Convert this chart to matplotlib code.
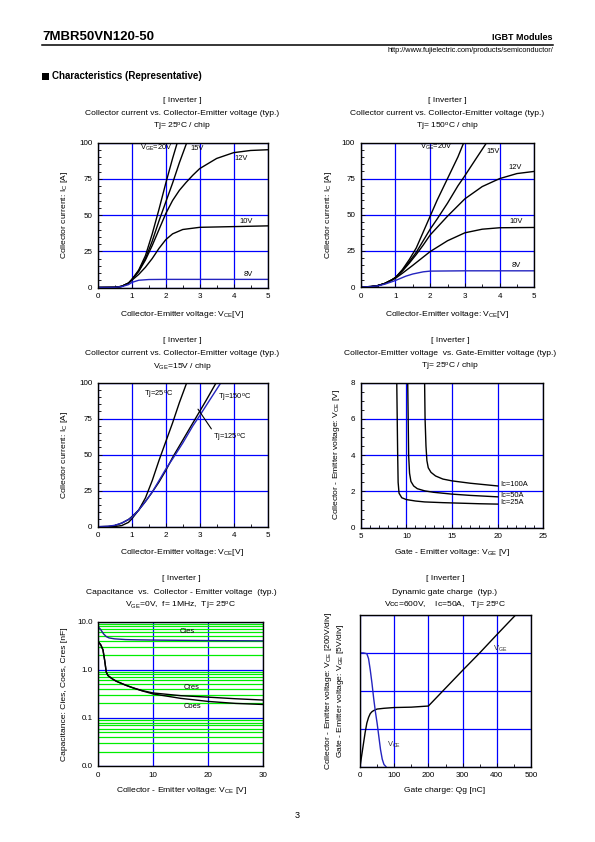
import matplotlib
matplotlib.use('Agg')
import matplotlib.pyplot as plt
from matplotlib.patches import Rectangle
from matplotlib.ticker import MultipleLocator, FixedLocator, FixedFormatter, NullFormatter

plt.rcParams['font.family'] = ['Liberation Sans', 'DejaVu Sans']
plt.rcParams['mathtext.default'] = 'regular'

# ---- output characteristics, Tj=25C (VCE [V], IC [A])
v25_20 = [0, 0.5, 0.7, 0.9, 1.0, 1.2, 1.4, 1.6, 1.8, 2.0, 2.2, 2.34]
i25_20 = [0, 0.1, 0.8, 3.0, 5.5, 12, 22, 37, 54, 72, 89, 100]
v25_15 = [0, 0.5, 0.7, 0.9, 1.0, 1.2, 1.4, 1.6, 1.8, 2.0, 2.2, 2.4, 2.62]
i25_15 = [0, 0.1, 0.8, 3.0, 5.5, 11.5, 20, 32, 46, 59, 72, 86, 100]
v25_12 = [0, 0.5, 0.7, 0.9, 1.0, 1.2, 1.4, 1.6, 1.8, 2.0, 2.2, 2.4, 2.6, 2.8, 3.0, 3.5, 4.0, 4.5, 5.0]
i25_12 = [0, 0.1, 0.8, 3.0, 5.5, 11, 19, 29, 40, 51, 60, 67, 72.5, 77.5, 82, 89, 93, 94.5, 95]
v25_10 = [0, 0.5, 0.7, 0.9, 1.0, 1.2, 1.4, 1.6, 1.8, 2.0, 2.2, 2.5, 3.0, 4.0, 5.0]
i25_10 = [0, 0.1, 0.8, 3.0, 5.0, 9, 14, 20, 27, 33, 37, 40, 41.5, 42, 42.5]
v25_8 = [0, 0.5, 0.7, 0.9, 1.0, 1.2, 1.5, 2.0, 5.0]
i25_8 = [0, 0.1, 0.6, 2.0, 3.5, 5.0, 5.5, 5.6, 5.6]

# ---- output characteristics, Tj=150C
v150_20 = [0, 0.3, 0.5, 0.7, 0.9, 1.0, 1.2, 1.4, 1.6, 1.8, 2.0, 2.2, 2.4, 2.6, 2.8, 2.97]
i150_20 = [0, 0.3, 1.0, 2.5, 5.0, 6.5, 12, 19, 27, 38, 49, 60, 70, 80, 90, 100]
v150_15 = [0, 0.3, 0.5, 0.7, 0.9, 1.0, 1.2, 1.4, 1.6, 1.8, 2.0, 2.2, 2.5, 2.8, 3.0, 3.3, 3.63]
i150_15 = [0, 0.3, 1.0, 2.5, 5.0, 6.5, 11.5, 17.5, 24, 32, 40, 47, 58, 70, 77, 88, 100]
v150_12 = [0, 0.3, 0.5, 0.7, 0.9, 1.0, 1.2, 1.4, 1.6, 1.8, 2.0, 2.5, 3.0, 3.5, 4.0, 4.5, 5.0]
i150_12 = [0, 0.3, 1.0, 2.5, 5.0, 6.5, 11, 16.5, 22.5, 29, 36, 49, 61, 69.5, 75, 78.5, 80]
v150_10 = [0, 0.3, 0.5, 0.7, 0.9, 1.0, 1.2, 1.5, 2.0, 2.5, 3.0, 3.5, 4.0, 5.0]
i150_10 = [0, 0.3, 1.0, 2.5, 4.8, 6.0, 9.5, 15, 24.5, 32, 37.5, 40, 41, 41.2]
v150_8 = [0, 0.3, 0.5, 0.7, 1.0, 1.3, 1.5, 1.8, 2.0, 3.0, 5.0]
i150_8 = [0, 0.3, 0.8, 2.0, 4.5, 7.5, 9.0, 10.5, 11, 11.2, 11.2]

# ---- VGE=15V, three temperatures
v_t25 = v25_15
i_t25 = i25_15
v_t125 = [0, 0.3, 0.5, 0.7, 0.9, 1.0, 1.2, 1.4, 1.6, 1.8, 2.0, 2.2, 2.5, 2.8, 3.0, 3.2, 3.49]
i_t125 = [0, 0.2, 0.8, 2.5, 5.0, 7.0, 11.5, 17.5, 24, 31, 39, 48, 60, 72, 80, 88, 100]
v_t150 = v150_15
i_t150 = i150_15

# ---- VCE vs VGE, Tj=25C
vge_25a = [8.95, 9.0, 9.05, 9.1, 9.2, 9.5, 10, 11, 12, 14, 16, 18, 20]
vce_25a = [8, 6, 4, 2.5, 1.9, 1.65, 1.55, 1.47, 1.42, 1.38, 1.35, 1.32, 1.3]
vge_50a = [10.15, 10.2, 10.25, 10.35, 10.5, 10.8, 11.2, 12, 13, 15, 17, 20]
vce_50a = [8, 6, 4, 3, 2.55, 2.3, 2.15, 2.03, 1.95, 1.85, 1.78, 1.7]
vge_100a = [12.0, 12.05, 12.15, 12.25, 12.4, 12.7, 13.2, 14, 15, 17, 20]
vce_100a = [8, 6, 4.5, 3.7, 3.3, 3.05, 2.85, 2.68, 2.58, 2.45, 2.3]

# ---- capacitance [nF] vs VCE [V]
cap_v = [0, 0.5, 1.0, 1.5, 2, 3, 5, 7, 10, 15, 20, 25, 30]
cies = [8.0, 6.8, 5.6, 4.9, 4.6, 4.4, 4.25, 4.2, 4.15, 4.1, 4.05, 4.02, 4.0]
cv2 = [0, 0.5, 0.9, 1.2, 1.5, 1.8, 2.5, 3.3, 5, 6.4, 8, 10, 15, 20, 25, 30]
cres = [3.9, 3.3, 2.6, 1.6, 0.9, 0.76, 0.66, 0.58, 0.48, 0.42, 0.37, 0.33, 0.29, 0.27, 0.25, 0.235]
coes = [3.9, 3.3, 2.6, 1.6, 0.9, 0.76, 0.66, 0.58, 0.48, 0.42, 0.365, 0.315, 0.255, 0.22, 0.2, 0.19]

# ---- gate charge [nC] vs divisions
qg_ge = [0, 5, 10, 15, 20, 25, 30, 35, 40, 50, 70, 100, 150, 200, 250, 300, 350, 400, 455]
vge_div = [0, 0.3, 0.6, 0.9, 1.15, 1.3, 1.4, 1.45, 1.48, 1.52, 1.54, 1.56, 1.57, 1.6, 2.07, 2.54, 3.0, 3.48, 4.0]
qg_ce = [0, 10, 20, 25, 30, 35, 40, 45, 50, 55, 60, 65, 70, 76]
vce_div = [3, 3, 2.98, 2.85, 2.55, 2.2, 1.8, 1.45, 1.15, 0.8, 0.45, 0.2, 0.06, 0]

W, H = 595, 842
GRID = '#0000ff'
CBLUE = '#2424c0'
FS = 6.1
fig = plt.figure(figsize=(W / 100, H / 100), dpi=100)


def box(l, t, r, b):
    return fig.add_axes([l / W, 1 - b / H, (r - l) / W, (b - t) / H])


def txt(x, y, s, **kw):
    kw.setdefault('fontsize', FS)
    fig.text(x / W, 1 - y / H, s, **kw)


def style(ax, xlim, ylim, xmaj, ymaj, xmin=None, ymin=None):
    ax.set_xlim(*xlim)
    ax.set_ylim(*ylim)
    ax.xaxis.set_major_locator(MultipleLocator(xmaj))
    ax.yaxis.set_major_locator(MultipleLocator(ymaj))
    if xmin:
        ax.xaxis.set_minor_locator(MultipleLocator(xmin))
    if ymin:
        ax.yaxis.set_minor_locator(MultipleLocator(ymin))
    ax.grid(which='major', color=GRID, lw=0.9)
    ax.set_axisbelow(True)
    ax.tick_params(which='both', direction='in', labelsize=5.8, width=0.6, pad=4)
    ax.tick_params(which='major', length=3)
    ax.tick_params(which='minor', length=2)
    for s in ax.spines.values():
        s.set_linewidth(1.0)


def titles(cx, y0, lines):
    for k, s in enumerate(lines):
        txt(cx, y0 + 13.3 * k, s, ha='center', va='center')


# header
txt(42, 37, '7MBR50VN120-50', fontsize=9.5, fontweight='bold', va='center')
txt(553, 38, 'IGBT Modules', fontsize=6.5, fontweight='bold', ha='right', va='center')
fig.add_artist(plt.Line2D([42 / W, 553 / W], [1 - 45 / H, 1 - 45 / H], color='black', lw=1.1))
txt(553, 50.5, 'http://www.fujielectric.com/products/semiconductor/', fontsize=5.3, ha='right', va='center')
fig.add_artist(Rectangle((42 / W, 1 - 80 / H), 7 / W, 7 / H, facecolor='black', edgecolor='none'))
txt(52, 76, 'Characteristics (Representative)', fontsize=7, fontweight='bold', va='center')
txt(297, 815, '3', fontsize=6.5, ha='center', va='center')

# ---- plot 1
ax1 = box(98, 142.5, 267.5, 287.5)
style(ax1, (0, 5), (0, 100), 1, 25, 0.5, 5)
for v, i in [(v25_20, i25_20), (v25_15, i25_15), (v25_12, i25_12), (v25_10, i25_10)]:
    ax1.plot(v, i, color='black', lw=1.0)
ax1.plot(v25_8, i25_8, color=CBLUE, lw=1.0)
ax1.text(1.23, 95, 'V$_{GE}$=20V', fontsize=5.4)
ax1.text(2.72, 95, '15V', fontsize=5.4)
ax1.text(4.03, 88, '12V', fontsize=5.4)
ax1.text(4.18, 44.5, '10V', fontsize=5.4)
ax1.text(4.3, 8, '8V', fontsize=5.4)
titles(182, 100, ['[ Inverter ]', 'Collector current vs. Collector-Emitter voltage (typ.)',
                  'Tj= 25$^{o}$C / chip'])
txt(182, 315, 'Collector-Emitter voltage: V$_{CE}$[V]', ha='center', va='center')
txt(65, 215, 'Collector current: I$_{C}$ [A]', rotation=90, ha='center', va='center')

# ---- plot 2
ax2 = box(360.7, 142.5, 534.3, 287)
style(ax2, (0, 5), (0, 100), 1, 25, 0.5, 5)
for v, i in [(v150_20, i150_20), (v150_15, i150_15), (v150_12, i150_12), (v150_10, i150_10)]:
    ax2.plot(v, i, color='black', lw=1.0)
ax2.plot(v150_8, i150_8, color=CBLUE, lw=1.0)
ax2.text(1.71, 95.5, 'V$_{GE}$=20V', fontsize=5.4)
ax2.text(3.63, 93, '15V', fontsize=5.4)
ax2.text(4.25, 82, '12V', fontsize=5.4)
ax2.text(4.28, 44.5, '10V', fontsize=5.4)
ax2.text(4.35, 13.5, '8V', fontsize=5.4)
titles(447, 100, ['[ Inverter ]', 'Collector current vs. Collector-Emitter voltage (typ.)',
                  'Tj= 150$^{o}$C / chip'])
txt(447, 315, 'Collector-Emitter voltage: V$_{CE}$[V]', ha='center', va='center')
txt(328, 215, 'Collector current: I$_{C}$ [A]', rotation=90, ha='center', va='center')

# ---- plot 3
ax3 = box(98, 382.5, 267.5, 526.7)
style(ax3, (0, 5), (0, 100), 1, 25, 0.5, 5)
ax3.plot(v_t25, i_t25, color='black', lw=1.0)
ax3.plot(v_t125, i_t125, color='black', lw=1.0)
ax3.plot(v_t150, i_t150, color=CBLUE, lw=1.0)
ax3.text(1.35, 90, 'Tj=25$^{o}$C', fontsize=5.4)
ax3.text(3.55, 88, 'Tj=150$^{o}$C', fontsize=5.4)
ax3.annotate('Tj=125$^{o}$C', xy=(2.95, 81.5), xytext=(3.4, 60.5), fontsize=5.4,
             arrowprops=dict(arrowstyle='-', color='black', lw=0.8, shrinkA=0, shrinkB=0,
                             relpos=(0, 1)))
titles(182, 340, ['[ Inverter ]', 'Collector current vs. Collector-Emitter voltage (typ.)',
                  'V$_{GE}$=15V / chip'])
txt(182, 552, 'Collector-Emitter voltage: V$_{CE}$[V]', ha='center', va='center')
txt(65, 455, 'Collector current: I$_{C}$ [A]', rotation=90, ha='center', va='center')

# ---- plot 4
ax4 = box(360.7, 382.5, 543.3, 527.7)
style(ax4, (5, 25), (0, 8), 5, 2, 1, 0.5)
ax4.plot(vge_25a, vce_25a, color='black', lw=1.0)
ax4.plot(vge_50a, vce_50a, color='black', lw=1.0)
ax4.plot(vge_100a, vce_100a, color='black', lw=1.0)
ax4.text(20.3, 2.4, 'Ic=100A', fontsize=5.4, va='center')
ax4.text(20.3, 1.8, 'Ic=50A', fontsize=5.4, va='center')
ax4.text(20.3, 1.4, 'Ic=25A', fontsize=5.4, va='center')
titles(450, 340, ['[ Inverter ]', 'Collector-Emitter voltage  vs. Gate-Emitter voltage (typ.)',
                  'Tj= 25$^{o}$C / chip'])
txt(452, 552, 'Gate - Emitter voltage: V$_{GE}$ [V]', ha='center', va='center')
txt(336, 455, 'Collector - Emitter voltage: V$_{CE}$ [V]', rotation=90, ha='center', va='center')

# ---- plot 5
ax5 = box(98, 621.7, 263.3, 766)
ax5.set_yscale('log')
ax5.set_xlim(0, 30)
ax5.set_ylim(0.01, 10)
ax5.xaxis.set_major_locator(MultipleLocator(10))
ax5.yaxis.set_major_locator(FixedLocator([0.01, 0.1, 1, 10]))
ax5.yaxis.set_major_formatter(FixedFormatter(['0.0', '0.1', '1.0', '10.0']))
minors = [m * 10.0 ** e for e in (-2, -1, 0) for m in range(2, 10)]
ax5.yaxis.set_minor_locator(FixedLocator(minors))
ax5.yaxis.set_minor_formatter(NullFormatter())
ax5.grid(which='minor', axis='y', color='#00ee00', lw=0.9)
ax5.grid(which='major', color=GRID, lw=0.9)
ax5.set_axisbelow(True)
ax5.tick_params(which='both', direction='in', labelsize=5.8, width=0.6, pad=4, length=0)
for s in ax5.spines.values():
    s.set_linewidth(1.0)
ax5.plot(cap_v, cies, color='#1e1e90', lw=1.0)
ax5.plot(cv2, cres, color='black', lw=1.0)
ax5.plot(cv2, coes, color='black', lw=1.0)
ax5.text(14.8, 6.3, 'Cies', fontsize=5.4, va='center')
ax5.text(15.5, 0.42, 'Cres', fontsize=5.4, va='center')
ax5.text(15.5, 0.17, 'Coes', fontsize=5.4, va='center')
titles(181, 579, ['[ Inverter ]', 'Capacitance  vs.  Collector - Emitter voltage  (typ.)',
                  'V$_{GE}$=0V,  f= 1MHz,  Tj= 25$^{o}$C'])
txt(181, 790, 'Collector - Emitter voltage: V$_{CE}$ [V]', ha='center', va='center')
txt(64, 694, 'Capacitance: Cies, Coes, Cres [nF]', rotation=90, ha='center', va='center')

# ---- plot 6
ax6 = box(360, 615, 531, 766.7)
style(ax6, (0, 500), (0, 4), 100, 1, 50, None)
ax6.yaxis.set_major_formatter(NullFormatter())
ax6.tick_params(axis='y', which='both', length=0)
ax6.plot(qg_ge, vge_div, color='black', lw=1.0)
ax6.plot(qg_ce, vce_div, color=CBLUE, lw=1.0)
ax6.text(388, 3.05, 'V$_{GE}$', fontsize=5.4, color='#333333')
ax6.text(78, 0.52, 'V$_{CE}$', fontsize=5.4, color='#333333')
titles(445, 579, ['[ Inverter ]', 'Dynamic gate charge  (typ.)',
                  'Vcc=600V,    Ic=50A,   Tj= 25$^{o}$C'])
txt(445, 790, 'Gate charge: Qg [nC]', ha='center', va='center')
txt(328, 691, 'Collector - Emitter voltage: V$_{CE}$ [200V/div]', rotation=90, ha='center', va='center')
txt(341, 691, 'Gate - Emitter voltage: V$_{GE}$ [5V/div]', rotation=90, ha='center', va='center')

fig.savefig('out.png', dpi=100)
